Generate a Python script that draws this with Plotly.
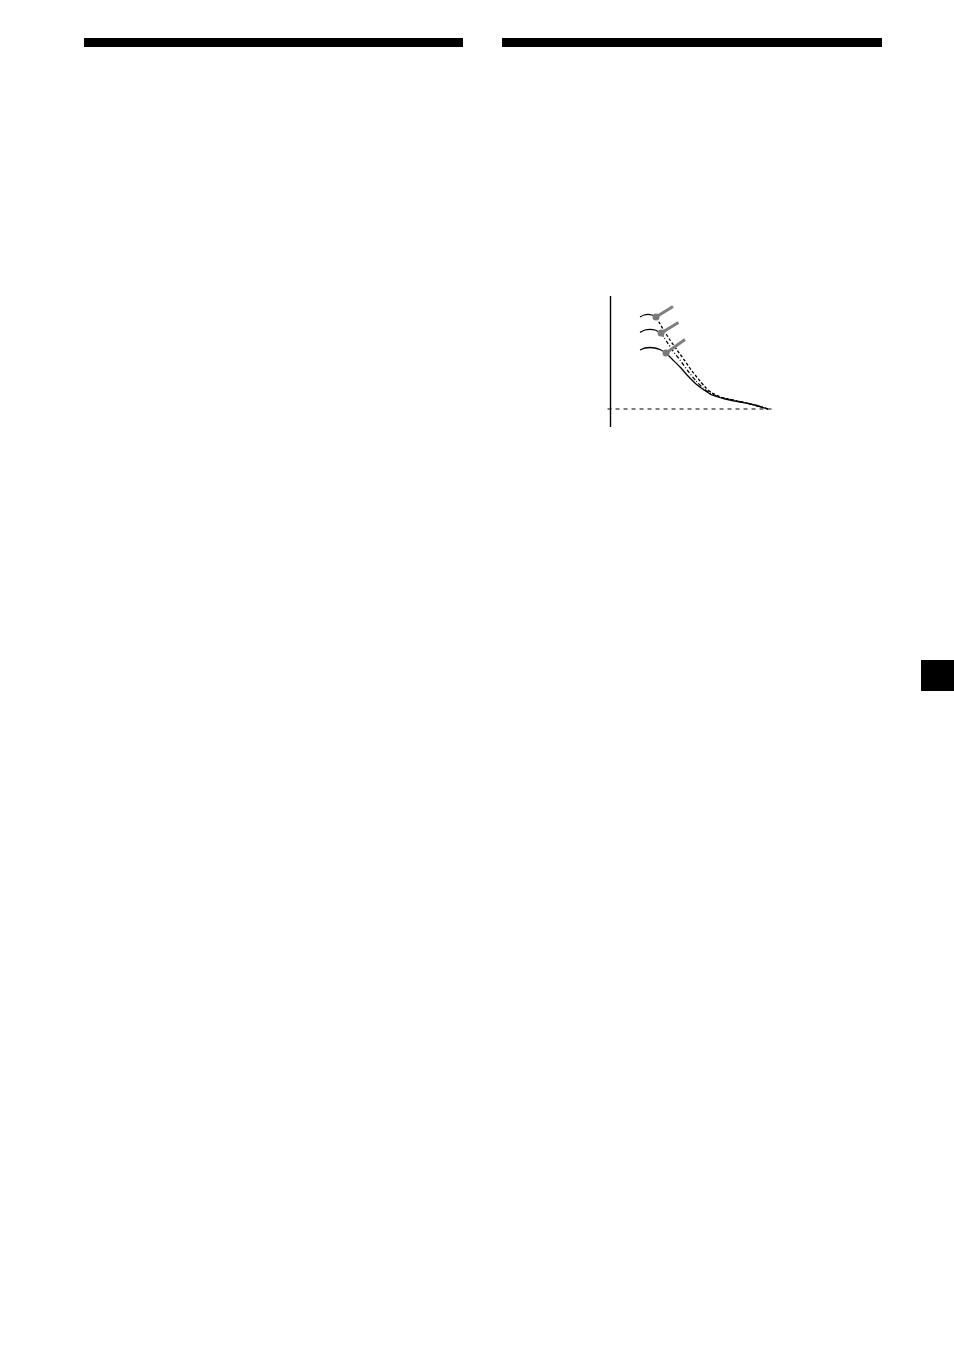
import plotly.graph_objects as go

W, H = 954, 1351

# Response curves (x: relative frequency units, y: relative level units)
top_flat_x = [40, 44, 48, 52, 56]
top_flat_y = [113, 115, 115.7, 115, 113]
top_fall_x = [56, 63, 70, 77, 85, 92, 100, 106, 112, 122, 135, 150, 168]
top_fall_y = [113, 101, 90, 80, 69, 59, 49, 42, 37, 32.5, 29.5, 26, 21]

mid_flat_x = [40, 45, 50, 55, 61]
mid_flat_y = [97.7, 100, 100.7, 100, 97]
mid_fall_x = [61, 67, 73, 80, 88, 96, 103, 110, 120, 135, 150, 168]
mid_fall_y = [97, 88, 79, 70, 59, 49, 42, 37, 33, 29.5, 26, 21]

low_flat_x = [40, 45, 50, 55, 60, 66]
low_flat_y = [80, 82, 82.5, 82, 80.5, 77]
low_fall_x = [66, 72, 80, 88, 96, 104, 112, 125, 140, 155, 168]
low_fall_y = [77, 71, 63, 54, 46, 40, 35, 31, 28, 25, 21]

# Level "knob" pointers: start (marker) and end
knob_x0 = [56, 61, 66]
knob_y0 = [113, 97, 77]
knob_x1 = [73, 78.5, 85]
knob_y1 = [123.5, 107.5, 90.5]

baseline_y = 21
axis_x = 10.5

fig = go.Figure()

def line(x, y, dash="solid", width=1.3, color="black"):
    fig.add_trace(go.Scatter(x=x, y=y, mode="lines", showlegend=False,
                             hoverinfo="skip",
                             line=dict(color=color, width=width, dash=dash,
                                       shape="spline", smoothing=0.6)))

line(top_flat_x, top_flat_y)
line(top_fall_x, top_fall_y, dash="3px,2px")
line(mid_flat_x, mid_flat_y)
line(mid_fall_x, mid_fall_y, dash="4px,2px,1px,2px")
line(low_flat_x, low_flat_y)
line(low_fall_x, low_fall_y)

for i in range(3):
    fig.add_trace(go.Scatter(x=[knob_x0[i], knob_x1[i]], y=[knob_y0[i], knob_y1[i]],
                             mode="lines", showlegend=False, hoverinfo="skip",
                             line=dict(color="#7f7f7f", width=3)))
fig.add_trace(go.Scatter(x=knob_x0, y=knob_y0, mode="markers", showlegend=False,
                         hoverinfo="skip",
                         marker=dict(color="#7a7a7a", size=7)))

# axes drawn as lines
fig.add_shape(type="line", xref="x", yref="y", x0=axis_x, x1=axis_x, y0=3, y1=134,
              line=dict(color="black", width=1.4))
fig.add_shape(type="line", xref="x", yref="y", x0=7.5, x1=175, y0=baseline_y, y1=baseline_y,
              line=dict(color="black", width=1.2, dash="4px,4px"))

# page decorations: header bars and thumb tab
def rect(x0, y0, x1, y1):
    fig.add_shape(type="rect", xref="paper", yref="paper",
                  x0=x0 / W, x1=x1 / W, y0=1 - y1 / H, y1=1 - y0 / H,
                  fillcolor="black", line=dict(width=0))

rect(84, 38, 463, 47)
rect(502, 38, 882, 47)
rect(921, 660, 954, 691)

fig.update_layout(
    width=W, height=H,
    margin=dict(l=0, r=0, t=0, b=0),
    paper_bgcolor="white", plot_bgcolor="white",
    xaxis=dict(domain=[600 / W, 780 / W], range=[0, 180], visible=False, fixedrange=True),
    yaxis=dict(domain=[1 - 430 / H, 1 - 290 / H], range=[0, 140], visible=False, fixedrange=True),
    showlegend=False,
)

fig.write_html(
    "out.html",
    config={"displayModeBar": False},
    post_script="document.body.style.margin='0';document.body.style.overflow='hidden';",
)
